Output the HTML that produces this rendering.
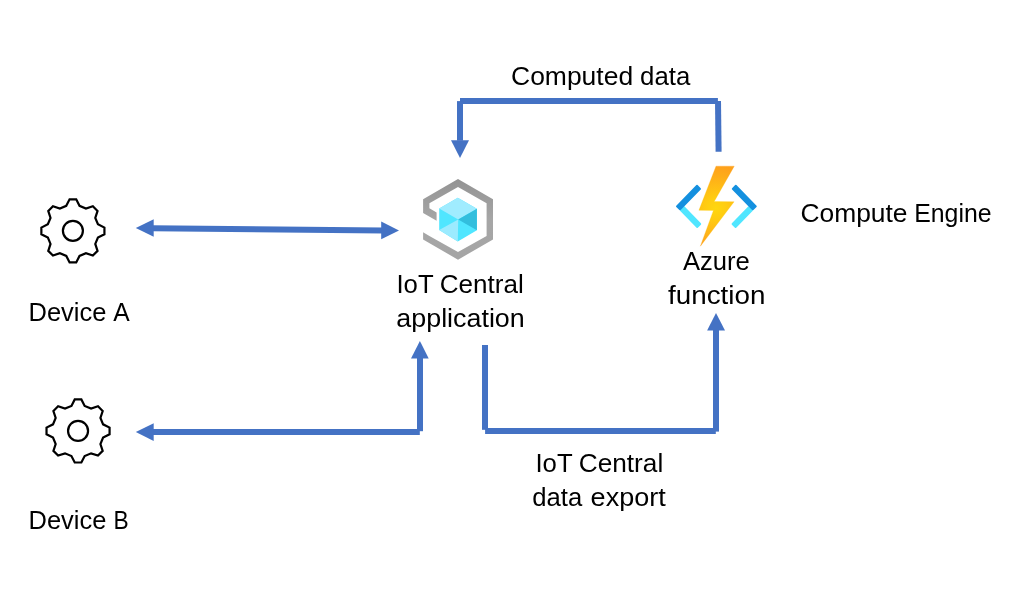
<!DOCTYPE html>
<html><head><meta charset="utf-8"><style>
html,body{margin:0;padding:0;background:#fff;}
body{width:1021px;height:593px;overflow:hidden;}
svg{display:block;will-change:transform;}
text{font-family:"Liberation Sans",sans-serif;font-size:25.5px;fill:#000;}
</style></head><body>
<svg width="1021" height="593" viewBox="0 0 1021 593">
<defs>
<radialGradient id="bolt" gradientUnits="userSpaceOnUse" cx="716" cy="208" r="42">
<stop offset="0" stop-color="#ffd70f"/><stop offset="0.27" stop-color="#ffcb12"/><stop offset="0.77" stop-color="#feac19"/><stop offset="1" stop-color="#fea11b"/>
</radialGradient>
<linearGradient id="gray" gradientUnits="userSpaceOnUse" x1="0" y1="179" x2="0" y2="260">
<stop offset="0" stop-color="#939393"/><stop offset="0.5" stop-color="#a6a6a6"/><stop offset="1" stop-color="#a5a5a5"/>
</linearGradient>
</defs>
<rect width="1021" height="593" fill="#fff"/>
<g fill="none" stroke="#000" stroke-width="2.2" stroke-linejoin="miter">
<path d="M66.28,205.86 L69.59,199.37 L76.21,199.37 L79.52,205.86 L85.93,208.52 L92.85,206.26 L97.54,210.95 L95.28,217.87 L97.94,224.28 L104.43,227.59 L104.43,234.21 L97.94,237.52 L95.28,243.93 L97.54,250.85 L92.85,255.54 L85.93,253.28 L79.52,255.94 L76.21,262.43 L69.59,262.43 L66.28,255.94 L59.87,253.28 L52.95,255.54 L48.26,250.85 L50.52,243.93 L47.86,237.52 L41.37,234.21 L41.37,227.59 L47.86,224.28 L50.52,217.87 L48.26,210.95 L52.95,206.26 L59.87,208.52 Z"/>
<circle cx="72.9" cy="230.8" r="10"/>
<path d="M71.43,405.91 L74.74,399.42 L81.36,399.42 L84.67,405.91 L91.08,408.57 L98.00,406.31 L102.69,411.00 L100.43,417.92 L103.09,424.33 L109.58,427.64 L109.58,434.26 L103.09,437.57 L100.43,443.98 L102.69,450.90 L98.00,455.59 L91.08,453.33 L84.67,455.99 L81.36,462.48 L74.74,462.48 L71.43,455.99 L65.02,453.33 L58.10,455.59 L53.41,450.90 L55.67,443.98 L53.01,437.57 L46.52,434.26 L46.52,427.64 L53.01,424.33 L55.67,417.92 L53.41,411.00 L58.10,406.31 L65.02,408.57 Z"/>
<circle cx="78.05" cy="430.9" r="10"/>
</g>
<g fill="#4472c4">
<polygon points="152,225.25 152,231.25 383,233.6 383,227.6"/>
<rect x="153" y="429" width="266.8" height="6"/>
<rect x="417" y="358" width="6" height="73.2"/>
<rect x="482" y="345" width="6" height="84.8"/>
<rect x="485.1" y="428" width="230.7" height="6"/>
<rect x="713" y="330" width="6" height="101.6"/>
<polygon points="715,101.1 721,101.1 721.6,151.8 715.6,151.8"/>
<rect x="460" y="98" width="257.9" height="6"/>
<rect x="457" y="101.1" width="6" height="39.6"/>
</g>
<g fill="#4472c4">
<polygon points="135.8,228 153.7,219.3 153.7,236.7"/>
<polygon points="399,230.4 381.2,221.6 381.2,239.2"/>
<polygon points="135.8,432.1 153.7,423.2 153.7,440.9"/>
<polygon points="419.9,341 411,358.5 428.7,358.5"/>
<polygon points="716,312.9 707.1,330.6 725,330.6"/>
<polygon points="460,158.1 451,140.3 469,140.3"/>
</g>
<polygon fill="url(#gray)" points="423.10,232.20 423.10,239.45 458.00,259.70 493.00,239.50 493.00,199.20 458.00,179.10 423.10,199.20 423.10,213.00 436.60,220.80 436.60,212.50 429.40,208.30 429.40,203.20 458.00,187.10 486.60,203.20 486.60,235.90 458.00,251.90 429.40,235.90"/>
<polygon fill="#50e6ff" points="457.8,197.8 476.9,208.7 476.9,230.2 457.8,241.5 439.2,230 439.2,208.6"/>
<polygon fill="#a0ecff" points="457.8,197.8 476.9,208.7 458.2,219.4 439.2,208.6"/>
<polygon fill="#9cebff" points="439.2,230 458.2,219.4 457.8,241.5"/>
<polygon fill="#32bedd" points="476.9,208.7 476.9,230.2 458.2,219.4"/>
<polygon fill="#50e6ff" stroke="#50e6ff" stroke-width="1.80" stroke-linejoin="round" points="683.99,207.23 700.29,223.99 697.21,227.07 680.91,210.31"/>
<polygon fill="#1490df" stroke="#1490df" stroke-width="1.80" stroke-linejoin="round" points="697.01,185.72 700.09,188.81 683.54,205.84 680.00,209.38 676.91,206.29"/>
<polygon fill="#50e6ff" stroke="#50e6ff" stroke-width="1.80" stroke-linejoin="round" points="748.81,207.23 732.51,223.99 735.59,227.07 751.89,210.31"/>
<polygon fill="#1490df" stroke="#1490df" stroke-width="1.80" stroke-linejoin="round" points="735.79,185.72 732.71,188.81 749.26,205.84 752.80,209.38 755.89,206.29"/>
<polygon fill="url(#bolt)" stroke="url(#bolt)" stroke-width="0.30" stroke-linejoin="round" points="716.00,166.15 734.24,166.15 714.24,201.45 734.10,201.75 700.38,246.22 713.41,210.45 698.92,210.35"/>
<text x="511.03" y="84.80" textLength="122.13" lengthAdjust="spacingAndGlyphs" style="font-size:25.50px">Computed</text>
<text x="640.14" y="84.80" textLength="50.16" lengthAdjust="spacingAndGlyphs" style="font-size:25.50px">data</text>
<text x="800.43" y="221.70" textLength="107.11" lengthAdjust="spacingAndGlyphs" style="font-size:25.50px">Compute</text>
<text x="914.26" y="221.70" textLength="77.28" lengthAdjust="spacingAndGlyphs" style="font-size:25.50px">Engine</text>
<text x="28.57" y="320.60" textLength="77.87" lengthAdjust="spacingAndGlyphs" style="font-size:25.50px">Device</text>
<text x="113.13" y="320.60" textLength="16.45" lengthAdjust="spacingAndGlyphs" style="font-size:25.50px">A</text>
<text x="28.57" y="528.70" textLength="77.87" lengthAdjust="spacingAndGlyphs" style="font-size:25.50px">Device</text>
<text x="113.45" y="528.70" textLength="15.20" lengthAdjust="spacingAndGlyphs" style="font-size:25.50px">B</text>
<text x="396.45" y="293.00" textLength="37.16" lengthAdjust="spacingAndGlyphs" style="font-size:25.50px">IoT</text>
<text x="439.75" y="293.00" textLength="83.93" lengthAdjust="spacingAndGlyphs" style="font-size:25.50px">Central</text>
<text x="396.32" y="326.90" textLength="128.42" lengthAdjust="spacingAndGlyphs" style="font-size:25.50px">application</text>
<text x="682.94" y="269.80" textLength="66.90" lengthAdjust="spacingAndGlyphs" style="font-size:25.50px">Azure</text>
<text x="668.06" y="303.70" textLength="97.30" lengthAdjust="spacingAndGlyphs" style="font-size:25.50px">function</text>
<text x="535.45" y="471.90" textLength="37.16" lengthAdjust="spacingAndGlyphs" style="font-size:25.50px">IoT</text>
<text x="578.72" y="471.90" textLength="84.52" lengthAdjust="spacingAndGlyphs" style="font-size:25.50px">Central</text>
<text x="532.29" y="505.90" textLength="49.95" lengthAdjust="spacingAndGlyphs" style="font-size:25.50px">data</text>
<text x="590.62" y="505.90" textLength="75.12" lengthAdjust="spacingAndGlyphs" style="font-size:25.50px">export</text>
</svg>
</body></html>
